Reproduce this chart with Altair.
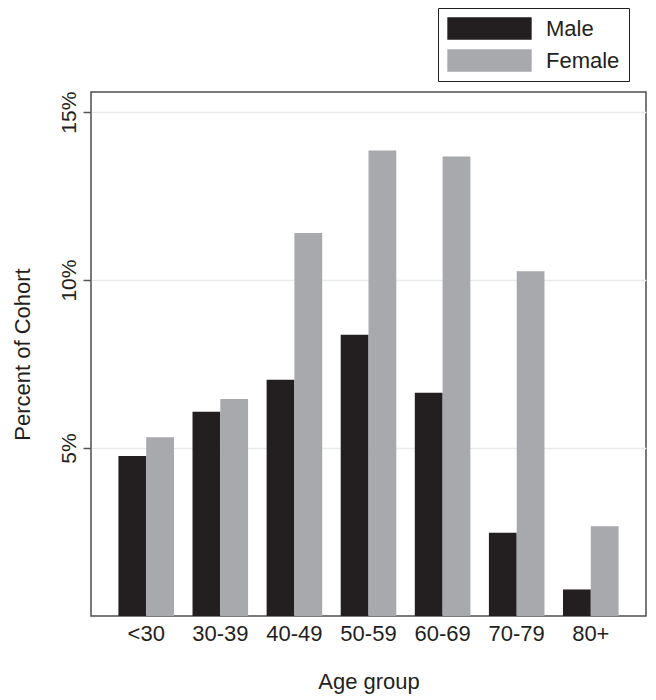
import altair as alt
import pandas as pd

ages = ["<30", "30-39", "40-49", "50-59", "60-69", "70-79", "80+"]
male = [4.76, 6.08, 7.03, 8.37, 6.65, 2.48, 0.79]
female = [5.32, 6.46, 11.40, 13.86, 13.68, 10.26, 2.67]
groups = ["Male", "Female"]
colors = ["#231f20", "#a7a9ac"]
y_ticks = [5, 10, 15]

rows = []
for a, m, f in zip(ages, male, female):
    rows.append({"age": a, "sex": "Male", "pct": m})
    rows.append({"age": a, "sex": "Female", "pct": f})
df = pd.DataFrame(rows)

FONT = "Liberation Sans"
TXT = "#231f20"

# legend symbol: a wide rectangle (path scaled by sqrt(size)/2)
SYM = "M-3.75,-1L3.75,-1L3.75,1L-3.75,1Z"
SYM_SIZE = 506  # sqrt -> 22.5 px tall, 84 px wide

W, H = 555, 524
PAD = {"left": 83, "top": 84, "right": 2, "bottom": 78}

chart = alt.Chart(df).mark_bar().encode(
    x=alt.X("age:N", sort=ages,
            scale=alt.Scale(paddingInner=0.25, paddingOuter=0.37),
            axis=alt.Axis(title="Age group", labelAngle=0, domain=False, ticks=False,
                          grid=False, labelPadding=24, labelBaseline="alphabetic",
                          labelFontSize=22, titleFontSize=22,
                          titleX=W / 2, titleY=72, titleBaseline="alphabetic",
                          titleAlign="center", titleFontWeight="normal")),
    xOffset=alt.XOffset("sex:N", sort=groups),
    y=alt.Y("pct:Q", scale=alt.Scale(domain=[0, 15.6], nice=False, zero=True),
            axis=alt.Axis(title="Percent of Cohort", values=y_ticks,
                          labelExpr="datum.value + '%'", labelAngle=-90,
                          labelAlign="center", labelBaseline="alphabetic",
                          labelPadding=8, tickSize=8, tickWidth=1.5, tickColor="#555555",
                          domain=False, grid=True, gridColor="#e8e9eb", gridWidth=1.5,
                          labelFontSize=21, titleFontSize=22, titleAngle=-90,
                          titleX=-62, titleY=H / 2, titleBaseline="alphabetic",
                          titleAlign="center", titleFontWeight="normal")),
    color=alt.Color("sex:N", sort=groups,
                    scale=alt.Scale(domain=groups, range=colors),
                    legend=alt.Legend(title=None, orient="none", legendX=347, legendY=-84,
                                      strokeColor="#231f20", fillColor="white",
                                      padding=9, labelFontSize=22, labelColor=TXT,
                                      labelFont=FONT,
                                      symbolType=SYM, symbolSize=SYM_SIZE,
                                      symbolStrokeWidth=0, symbolOpacity=1,
                                      symbolOffset=31, labelOffset=45,
                                      rowPadding=9)),
).properties(
    width=W, height=H,
    autosize=alt.AutoSizeParams(type="none"),
    padding=PAD,
).configure_view(
    stroke="#4d4d4d", strokeWidth=1.5
).configure_axis(
    labelFont=FONT, titleFont=FONT, labelColor=TXT, titleColor=TXT
)

chart.save("out.html", embed_options={"renderer": "svg", "actions": False})
